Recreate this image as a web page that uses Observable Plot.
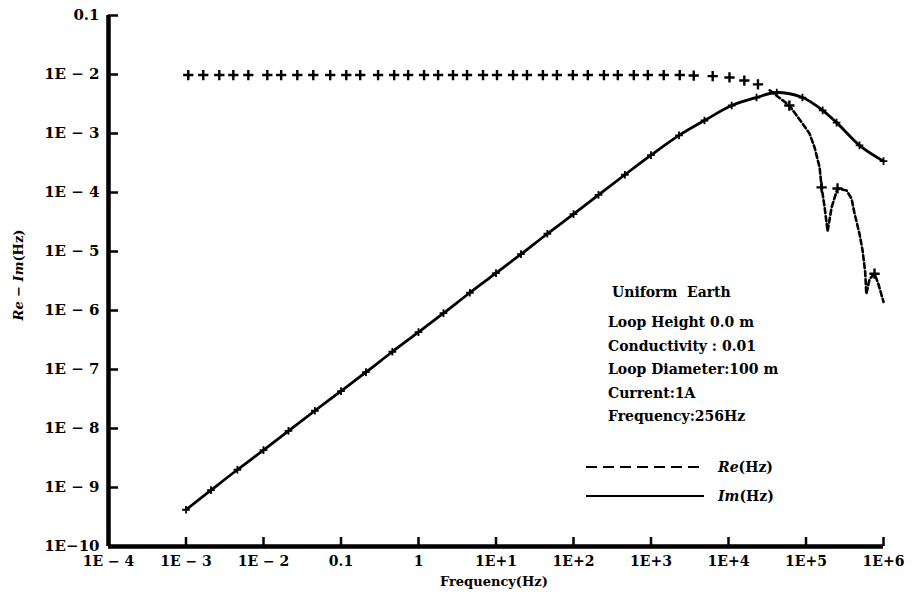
<!DOCTYPE html>
<html><head><meta charset="utf-8">
<script src="https://cdn.jsdelivr.net/npm/d3@7"></script>
<script src="https://cdn.jsdelivr.net/npm/@observablehq/plot@0.6"></script>
<style>
body{margin:0;background:#fff;}
#chart{position:relative;width:912px;height:595px;font-family:"DejaVu Serif",serif;font-weight:bold;color:#000;}
#chart svg{position:absolute;left:0;top:0;}
.ann{position:absolute;font-size:14px;white-space:nowrap;line-height:1;}
.lab{position:absolute;font-size:14px;white-space:nowrap;line-height:1;}
i{font-style:italic;}
</style></head><body><div id="chart"></div>
<script>
// ---- axis ticks ----
const xTicks = [1e-4,1e-3,1e-2,1e-1,1,1e1,1e2,1e3,1e4,1e5,1e6];
const xTickLabels = ["1E − 4","1E − 3","1E − 2","0.1","1","1E+1","1E+2","1E+3","1E+4","1E+5","1E+6"];
const yTicks = [1e-10,1e-9,1e-8,1e-7,1e-6,1e-5,1e-4,1e-3,1e-2,1e-1];
const yTickLabels = ["1E−10","1E − 9","1E − 8","1E − 7","1E − 6","1E − 5","1E − 4","1E − 3","1E − 2","0.1"];

// ---- Im(Hz) series (solid line with + markers) ----
const imFreq = [0.001,0.0021,0.0046,0.01,0.021,0.046,0.1,0.21,0.46,1,2.1,4.6,10,21,46,100,210,460,1000,2300,4900,11000,23000,42000,90000,164000,248000,490000,1000000];
const imVal  = [4.2e-10,9.0e-10,2.0e-9,4.3e-9,9.1e-9,2.0e-8,4.3e-8,9.0e-8,2.0e-7,4.3e-7,9.0e-7,2.0e-6,4.3e-6,9.0e-6,2.0e-5,4.3e-5,9.1e-5,2.0e-4,4.3e-4,9.3e-4,1.66e-3,2.98e-3,4.07e-3,4.95e-3,4.07e-3,2.46e-3,1.53e-3,6.3e-4,3.4e-4];

// ---- Re(Hz) series: points drawn with + markers ----
const reMarkFreq = [0.00107,0.00167,0.00269,0.00408,0.00637,0.0112,0.0169,0.0273,0.0439,0.0726,0.117,0.177,0.301,0.485,0.735,1.18,1.79,2.79,4.23,6.8,10.3,16.6,25.1,40.3,61.1,98.2,153,247,373,600,910,1460,2350,3560,6250,10300,16000,24000,61000,159000,255000,766000];
const reMarkVal  = [0.0098,0.0098,0.0098,0.0098,0.0098,0.0098,0.0098,0.0098,0.0098,0.0098,0.0098,0.0098,0.0098,0.0098,0.0098,0.0098,0.0098,0.0098,0.0098,0.0098,0.0098,0.0098,0.0098,0.0098,0.0098,0.0098,0.0098,0.0098,0.0098,0.0098,0.0098,0.0098,0.0098,0.0096,0.0094,0.0089,0.0079,0.0068,0.00298,0.000122,0.000117,4.2e-6];
// ---- Re(Hz) dashed high-frequency branch ----
const reLineFreq = [34000,61000,90000,111000,129000,150000,159000,174000,190000,214000,255000,334000,387000,423000,490000,537000,580000,600000,660000,766000,860000,1000000];
const reLineVal  = [5.4e-3,2.98e-3,1.48e-3,1.0e-3,5.8e-4,2.65e-4,1.22e-4,5.6e-5,2.2e-5,5.6e-5,1.17e-4,1.08e-4,7.9e-5,4.4e-5,2.0e-5,1.04e-5,4.5e-6,1.9e-6,3.4e-6,4.2e-6,2.8e-6,1.4e-6];

// ---- annotation text ----
const infoTitle = "Uniform  Earth";
const infoLines = ["Loop Height 0.0 m","Conductivity : 0.01","Loop Diameter:100 m","Current:1A","Frequency:256Hz"];

const im = imFreq.map((f,i)=>({f, v: imVal[i]}));
const reM = reMarkFreq.map((f,i)=>({f, v: reMarkVal[i]}));
const reL = reLineFreq.map((f,i)=>({f, v: reLineVal[i]}));

const fmtX = d => xTickLabels[xTicks.findIndex(t => Math.abs(Math.log10(t)-Math.log10(d))<1e-6)];
const fmtY = d => yTickLabels[yTicks.findIndex(t => Math.abs(Math.log10(t)-Math.log10(d))<1e-6)];

const plot = Plot.plot({
  width: 912, height: 595,
  marginLeft: 108, marginRight: 29, marginTop: 15, marginBottom: 49,
  style: {fontFamily:"DejaVu Serif", fontSize:"13px", background:"#fff", color:"#000"},
  x: {type:"log", domain:[1e-4,1e6], axis:null},
  y: {type:"log", domain:[1e-10,1e-1], axis:null},
  marks: [
    // axes frame
    Plot.axisY(yTicks, {anchor:"left", tickSize:10, dx:10, strokeWidth:2.5, tickFormat:()=>"", label:null}),
    Plot.axisX(xTicks, {anchor:"bottom", tickSize:9, dy:-9, strokeWidth:2.5, tickFormat:()=>"", label:null}),
    Plot.axisY(yTicks, {anchor:"left", tickSize:0, tickPadding:9, tickFormat:fmtY, label:null, fontFamily:"DejaVu Serif", fontWeight:"bold", fontSize:15}),
    Plot.axisX(xTicks, {anchor:"bottom", tickSize:0, tickPadding:10, tickFormat:fmtX, label:null, fontFamily:"DejaVu Serif", fontWeight:"bold", fontSize:14}),
    Plot.ruleX([1e-4], {strokeWidth:4.5}),
    Plot.ruleY([1e-10], {strokeWidth:4.5}),
    // Im
    Plot.line(im, {x:"f", y:"v", stroke:"#000", strokeWidth:2.8, curve:"monotone-x"}),
    Plot.dot(im, {x:"f", y:"v", symbol:"plus", r:2.6, stroke:"#000", strokeWidth:1.8}),
    // Re
    Plot.line(reL, {x:"f", y:"v", stroke:"#000", strokeWidth:2.6, strokeDasharray:"5,3"}),
    Plot.dot(reM, {x:"f", y:"v", symbol:"plus", r:3.4, stroke:"#000", strokeWidth:2.4})
  ]
});
const chart = document.getElementById("chart");
chart.appendChild(plot);

function addDiv(cls, html, left, top, extra) {
  const d = document.createElement("div");
  d.className = cls; d.innerHTML = html;
  d.style.left = left + "px"; d.style.top = top + "px";
  if (extra) Object.assign(d.style, extra);
  chart.appendChild(d);
  return d;
}
// annotation block
addDiv("ann", infoTitle.replace(/ /g,"&nbsp;"), 612, 285);
infoLines.forEach((t,i) => addDiv("ann", t, 608, 315 + i*23.5));
// legend
const legSvg = `<svg width="120" height="8" style="display:block"><line x1="0" y1="4" x2="118" y2="4" stroke="#000" stroke-width="2.2" DASH/></svg>`;
addDiv("lab", legSvg.replace("DASH",'stroke-dasharray="11,6"'), 586, 463);
addDiv("lab", "<i>Re</i>(Hz)", 718, 460);
addDiv("lab", legSvg.replace("DASH",''), 586, 492);
addDiv("lab", "<i>Im</i>(Hz)", 718, 489);
// axis titles
addDiv("lab", "Frequency(Hz)", 440, 575, {fontSize:"13px"});
addDiv("lab", "<i>Re</i> − <i>Im</i>(Hz)", 18, 275, {fontSize:"13px", transform:"translate(-50%,-50%) rotate(-90deg)"});
</script>
</body></html>
